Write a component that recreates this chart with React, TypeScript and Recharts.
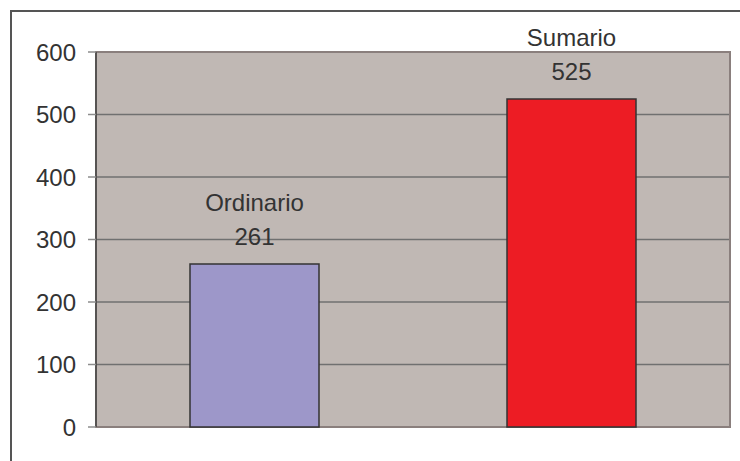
import { BarChart, Bar, XAxis, YAxis, CartesianGrid, Cell, LabelList, ReferenceArea } from 'recharts'

const categories = ['Ordinario', 'Sumario']
const totals = [261, 525]
const barColors = ['#9d97c9', '#ed1c24']
const yTicks = [0, 100, 200, 300, 400, 500, 600]

const chartData = categories.map((name, i) => ({ name, total: totals[i] }))

const FONT = '"Liberation Sans", Arial, sans-serif'

// two-line label above each bar: category name, then the value
function BarLabel(props: any) {
  const { x, y, width, index, value } = props
  const cx = x + width / 2
  return (
    <g>
      <text x={cx} y={y - 53} textAnchor="middle" fontSize={24} fontFamily={FONT} fill="#333">
        {categories[index]}
      </text>
      <text x={cx} y={y - 19} textAnchor="middle" fontSize={24} fontFamily={FONT} fill="#333">
        {value}
      </text>
    </g>
  )
}

export default function App() {
  return (
    <div style={{ position: 'absolute', left: 0, top: 0, width: 740, height: 461, background: '#fff', overflow: 'hidden' }}>
      <div
        style={{
          position: 'absolute',
          left: 10,
          top: 10,
          width: 760,
          height: 480,
          border: '2px solid #555',
          boxSizing: 'border-box',
        }}
      />
      <div style={{ position: 'absolute', left: 0, top: 0 }}>
        <BarChart
          width={740}
          height={461}
          data={chartData}
          margin={{ top: 52, right: 10, left: 0, bottom: 34 }}
          barSize={129}
        >
          <CartesianGrid vertical={false} fill="#c0b8b4" stroke="#707070" strokeWidth={1.3} />
          <ReferenceArea y1={0} y2={600} fill="none" stroke="#8a7f7d" strokeWidth={2} />
          <XAxis dataKey="name" tick={false} tickLine={false} height={0} axisLine={{ stroke: '#8a7f7d', strokeWidth: 2 }} />
          <YAxis
            width={96}
            domain={[0, 600]}
            ticks={yTicks}
            interval={0}
            tickSize={8}
            tickMargin={12}
            tickLine={{ stroke: '#8c8c8c', strokeWidth: 1.5 }}
            axisLine={{ stroke: '#444', strokeWidth: 1.5 }}
            tick={{ fontSize: 24, fontFamily: FONT, fill: '#333' }}
          />
          <Bar dataKey="total" stroke="#333" strokeWidth={1.5} isAnimationActive={false}>
            {chartData.map((d, i) => (
              <Cell key={d.name} fill={barColors[i]} />
            ))}
            <LabelList dataKey="total" content={BarLabel} />
          </Bar>
        </BarChart>
      </div>
    </div>
  )
}
